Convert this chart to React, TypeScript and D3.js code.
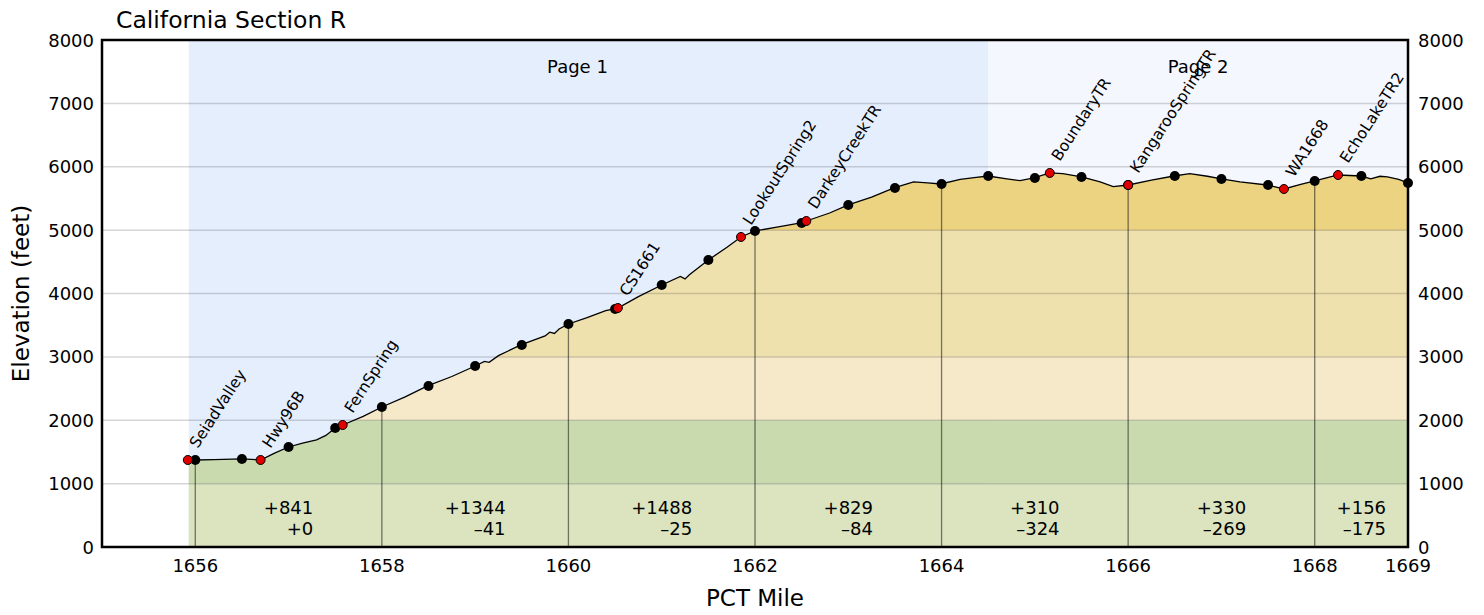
import React, { useMemo } from 'react'
import * as d3 from 'd3'

// elevation profile: [PCT mile, feet]
const profile: [number, number][] = [
  [1655.93, 1373], [1656.0, 1373], [1656.2, 1378], [1656.5, 1389], [1656.6, 1382],
  [1656.7, 1373], [1656.85, 1480], [1657.0, 1578], [1657.15, 1640], [1657.3, 1690],
  [1657.4, 1760], [1657.5, 1878], [1657.58, 1925], [1657.8, 2060], [1658.0, 2209],
  [1658.25, 2370], [1658.49, 2541], [1658.75, 2690], [1659.0, 2856], [1659.1, 2930],
  [1659.15, 2915], [1659.25, 3020], [1659.49, 3188], [1659.75, 3330], [1659.8, 3390],
  [1659.85, 3370], [1659.9, 3440], [1660.0, 3519], [1660.2, 3620], [1660.4, 3730],
  [1660.53, 3771], [1660.75, 3950], [1661.0, 4134], [1661.2, 4270], [1661.25, 4230],
  [1661.3, 4300], [1661.5, 4529], [1661.7, 4730], [1661.85, 4892], [1662.0, 4987],
  [1662.25, 5050], [1662.49, 5113], [1662.55, 5144], [1662.8, 5270], [1663.0, 5397],
  [1663.25, 5520], [1663.49, 5665], [1663.7, 5760], [1663.85, 5745], [1663.99, 5728],
  [1664.2, 5800], [1664.35, 5830], [1664.5, 5854], [1664.7, 5810], [1664.84, 5780],
  [1664.99, 5823], [1665.16, 5902], [1665.3, 5890], [1665.5, 5839], [1665.7, 5760],
  [1665.84, 5686], [1666.0, 5712], [1666.25, 5790], [1666.49, 5854], [1666.66, 5890],
  [1666.85, 5850], [1667.0, 5807], [1667.2, 5760], [1667.49, 5712], [1667.67, 5649],
  [1667.85, 5720], [1668.0, 5776], [1668.25, 5870], [1668.5, 5854], [1668.6, 5810],
  [1668.7, 5850], [1668.78, 5839], [1668.9, 5800], [1669.0, 5744],
]

// half-mile markers (black dots)
const mileMarkers: [number, number][] = [
  [1656.0, 1373], [1656.5, 1389], [1657.0, 1578], [1657.5, 1878], [1658.0, 2209],
  [1658.5, 2541], [1659.0, 2856], [1659.5, 3188], [1660.0, 3519], [1660.5, 3756],
  [1661.0, 4134], [1661.5, 4529], [1662.0, 4987], [1662.5, 5113], [1663.0, 5397],
  [1663.5, 5665], [1664.0, 5728], [1664.5, 5854], [1665.0, 5823], [1665.5, 5839],
  [1666.0, 5712], [1666.5, 5854], [1667.0, 5807], [1667.5, 5712], [1668.0, 5776],
  [1668.5, 5854], [1669.0, 5744],
]

// named waypoints (red dots)
const waypointNames = [
  'SeiadValley', 'Hwy96B', 'FernSpring', 'CS1661', 'LookoutSpring2',
  'DarkeyCreekTR', 'BoundaryTR', 'KangarooSpringTR', 'WA1668', 'EchoLakeTR2',
]
const waypointMiles = [1655.92, 1656.7, 1657.58, 1660.53, 1661.85, 1662.55, 1665.16, 1666.0, 1667.67, 1668.25]
const waypointElev = [1373, 1373, 1925, 3771, 4892, 5144, 5902, 5712, 5649, 5870]

// gain / loss for each 2-mile stretch
const segmentEdges = [1656, 1658, 1660, 1662, 1664, 1666, 1668, 1669]
const segmentGain = ['+841', '+1344', '+1488', '+829', '+310', '+330', '+156']
const segmentLoss = ['+0', '–41', '–25', '–84', '–324', '–269', '–175']

// map pages
const pageNames = ['Page 1', 'Page 2']
const pageEdges = [1655.93, 1664.5, 1669]

const bandEdges = [0, 1000, 2000, 3000, 5000, 6000]
const bandColors = ['#dbe3bf', '#c9dbae', '#f5e9c9', '#eee1ae', '#ebd382']
const pageColors = ['#e5eefd', '#f4f7fe']

const xTicks = [1656, 1658, 1660, 1662, 1664, 1666, 1668, 1669]
const yTicks = [0, 1000, 2000, 3000, 4000, 5000, 6000, 7000, 8000]

const W = 1484
const H = 615
const FONT = 'DejaVu Sans, Verdana, sans-serif'

const App = () => {
  const x = d3.scaleLinear().domain([1655, 1669]).range([102, 1408])
  const y = d3.scaleLinear().domain([0, 8000]).range([547, 40])

  const area = d3
    .area<[number, number]>()
    .x((d) => x(d[0]))
    .y0(y(0))
    .y1((d) => y(d[1]))
  const line = d3
    .line<[number, number]>()
    .x((d) => x(d[0]))
    .y((d) => y(d[1]))

  const elevAt = (m: number) => {
    const i = d3.bisector((d: [number, number]) => d[0]).left(profile, m)
    if (i <= 0) return profile[0][1]
    if (i >= profile.length) return profile[profile.length - 1][1]
    const a = profile[i - 1]
    const b = profile[i]
    return a[1] + ((b[1] - a[1]) * (m - a[0])) / (b[0] - a[0])
  }

  // width of text for the right-aligned gain/loss blocks
  const measure = useMemo(() => {
    const ctx = document.createElement('canvas').getContext('2d')
    return (s: string) => {
      if (!ctx) return s.length * 11
      ctx.font = '18px "DejaVu Sans"'
      return ctx.measureText(s).width
    }
  }, [])

  return (
    <svg width={W} height={H} style={{ position: 'absolute', left: 0, top: 0 }} fontFamily={FONT}>
      <defs>
        <clipPath id='under'>
          <path d={area(profile) || ''} />
        </clipPath>
      </defs>

      {/* page backgrounds */}
      {pageNames.map((p, i) => (
        <rect
          key={p}
          x={x(pageEdges[i])}
          y={y(8000)}
          width={x(pageEdges[i + 1]) - x(pageEdges[i])}
          height={y(0) - y(8000)}
          fill={pageColors[i]}
        />
      ))}

      {/* elevation bands under profile */}
      <g clipPath='url(#under)'>
        {bandColors.map((c, i) => (
          <rect
            key={i}
            x={x(1655)}
            y={y(bandEdges[i + 1])}
            width={x(1669) - x(1655)}
            height={y(bandEdges[i]) - y(bandEdges[i + 1])}
            fill={c}
          />
        ))}
      </g>

      {/* grid */}
      {yTicks.slice(1, -1).map((t) => (
        <line key={t} x1={x(1655)} x2={x(1669)} y1={y(t)} y2={y(t)} stroke='#000' strokeOpacity={0.16} strokeWidth={1.5} />
      ))}

      {/* mile lines */}
      {segmentEdges.slice(0, -1).map((m) => (
        <line key={m} x1={x(m)} x2={x(m)} y1={y(0)} y2={y(elevAt(m))} stroke='#000' strokeOpacity={0.5} strokeWidth={1.3} />
      ))}

      {pageNames.map((p, i) => (
        <text
          key={p}
          x={x((pageEdges[i] + pageEdges[i + 1]) / 2) - (i === 0 ? 11 : 0)}
          y={73}
          fontSize={18}
          textAnchor='middle'
        >
          {p}
        </text>
      ))}

      <path d={line(profile) || ''} fill='none' stroke='#000' strokeWidth={1.3} />

      {mileMarkers.map(([m, e]) => (
        <circle key={m} cx={x(m)} cy={y(e)} r={5} fill='#000' />
      ))}
      {waypointNames.map((n, i) => (
        <circle key={n} cx={x(waypointMiles[i])} cy={y(waypointElev[i])} r={4.5} fill='#e00000' stroke='#000' strokeWidth={1} />
      ))}
      {waypointNames.map((n, i) => (
        <text
          key={n}
          fontSize={15.5}
          transform={`translate(${x(waypointMiles[i]) + 10},${y(waypointElev[i]) - 11}) rotate(-57)`}
        >
          {n}
        </text>
      ))}

      {/* gain and loss */}
      {segmentGain.map((g, i) => {
        const cx = (x(segmentEdges[i]) + x(segmentEdges[i + 1])) / 2
        const w = Math.max(measure(g), measure(segmentLoss[i]))
        return (
          <g key={i} fontSize={18} textAnchor='end'>
            <text x={cx + w / 2} y={513.5}>{g}</text>
            <text x={cx + w / 2} y={534.5}>{segmentLoss[i]}</text>
          </g>
        )
      })}

      {/* frame */}
      <rect x={x(1655)} y={y(8000)} width={x(1669) - x(1655)} height={y(0) - y(8000)} fill='none' stroke='#000' strokeWidth={2.5} />

      {yTicks.map((t) => (
        <g key={t} fontSize={18}>
          <text x={94} y={y(t) + 6.5} textAnchor='end'>{t}</text>
          <text x={1418} y={y(t) + 6.5}>{t}</text>
        </g>
      ))}
      {xTicks.map((t) => (
        <text key={t} x={x(t)} y={572} fontSize={18} textAnchor='middle'>{t}</text>
      ))}

      <text x={116} y={28} fontSize={23.5}>California Section R</text>
      <text x={755} y={606} fontSize={23} textAnchor='middle'>PCT Mile</text>
      <text transform={`translate(29,${(y(0) + y(8000)) / 2}) rotate(-90)`} fontSize={23} textAnchor='middle'>
        Elevation (feet)
      </text>
    </svg>
  )
}

export default App
